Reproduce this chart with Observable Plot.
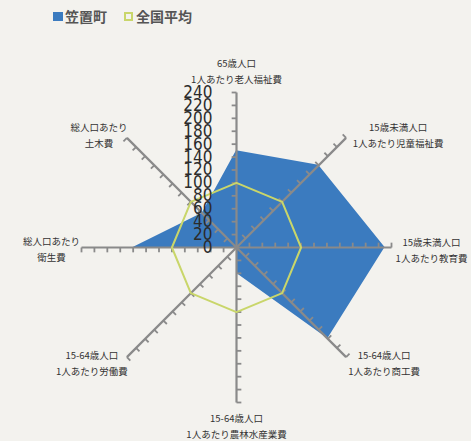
<!DOCTYPE html>
<html><head><meta charset="utf-8">
<script src="https://cdn.jsdelivr.net/npm/d3@7"></script>
<script src="https://cdn.jsdelivr.net/npm/@observablehq/plot@0.6"></script>
<style>
body{margin:0;background:#f3f2ee;}
#legend{position:relative;height:30px;width:471px;font-family:"Noto Sans CJK JP","Noto Sans",sans-serif;font-weight:bold;font-size:14px;color:#555;}
#legend .sw{position:absolute;box-sizing:border-box;}
#legend .lb{position:absolute;top:6px;line-height:20px;}
#chart svg{display:block;background:transparent;}
</style></head><body>
<div id="legend"></div>
<div id="chart"></div>
<script>
// ---- data ----
const categoriesTop = ["65歳人口","15歳未満人口","15歳未満人口","15-64歳人口","15-64歳人口","15-64歳人口","総人口あたり","総人口あたり"];
const categoriesBottom = ["1人あたり老人福祉費","1人あたり児童福祉費","1人あたり教育費","1人あたり商工費","1人あたり農林水産業費","1人あたり労働費","衛生費","土木費"];
const seriesNames = ["笠置町","全国平均"];
const kasagiValues = [150, 180, 230, 200, 40, 0, 160, 75];
const nationalValues = [100, 100, 100, 100, 100, 100, 100, 100];
const tickValues = [0,20,40,60,80,100,120,140,160,180,200,220,240];

// ---- layout / style ----
const BLUE = "#3b7bbf", YELLOW = "#c9d66a", AXIS = "#8a8a8a";
const labelOffsetsPx = [[0,-23],[52,-4],[40,1],[38,5],[0,22],[-35,5],[-30,0],[-28,-4]];
const maxV = 240, tickLen = 7.5, unitsPerPx = 240 / 155;

const pt = (v, i) => { const a = i * Math.PI / 4; return {x: v * Math.sin(a), y: v * Math.cos(a), i}; };
const kasagiPts = kasagiValues.map((v, i) => pt(v, i));
const nationalPts = nationalValues.map((v, i) => pt(v, i));
const axes = categoriesTop.map((c, i) => pt(maxV, i));
const labels = categoriesTop.map((c, i) => {
  const p = pt(maxV, i);
  return {x: p.x + labelOffsetsPx[i][0] * unitsPerPx, y: p.y - labelOffsetsPx[i][1] * unitsPerPx, text: c + "\n" + categoriesBottom[i]};
});
const ticks = [];
categoriesTop.forEach((c, i) => {
  const a = i * Math.PI / 4;
  tickValues.filter(t => t > 0).forEach(t => {
    const p = pt(t, i);
    ticks.push({x1: p.x, y1: p.y, x2: p.x - tickLen * Math.cos(a), y2: p.y + tickLen * Math.sin(a)});
  });
});

// legend
const lg = document.getElementById("legend");
lg.innerHTML = `<div class="sw" style="left:53px;top:12px;width:10px;height:9px;background:${BLUE}"></div>
<div class="lb" style="left:65px">${seriesNames[0]}</div>
<div class="sw" style="left:124px;top:12px;width:9px;height:9px;border:2px solid ${YELLOW}"></div>
<div class="lb" style="left:136px">${seriesNames[1]}</div>`;

const chart = Plot.plot({
  width: 471, height: 411, margin: 0,
  x: {domain: [-maxV, maxV], range: [81, 391], axis: null},
  y: {domain: [-maxV, maxV], range: [372, 62], axis: null},
  style: {background: "transparent"},
  marks: [
    Plot.area(kasagiPts, {x1: "x", y1: "y", x2: 0, y2: 0, fill: BLUE, curve: "linear-closed"}),
    Plot.link(axes, {x1: 0, y1: 0, x2: "x", y2: "y", stroke: AXIS, strokeWidth: 2.2}),
    Plot.link(ticks, {x1: "x1", y1: "y1", x2: "x2", y2: "y2", stroke: AXIS, strokeWidth: 1.8}),
    Plot.line(nationalPts, {x: "x", y: "y", stroke: YELLOW, strokeWidth: 2, curve: "linear-closed"}),
    Plot.text(tickValues, {x: 0, y: d => d, text: d => String(d), textAnchor: "end", dx: -24,
      fontSize: 17, fontFamily: "Liberation Sans Narrow, DejaVu Sans Condensed, sans-serif", fill: "#2b2b2b"}),
    Plot.text(labels, {x: "x", y: "y", text: "text",
      fontSize: 9.5, lineHeight: 1.7, fill: "#333", fontFamily: "Noto Sans CJK JP, sans-serif"})
  ]
});
document.getElementById("chart").appendChild(chart);
</script>
</body></html>
